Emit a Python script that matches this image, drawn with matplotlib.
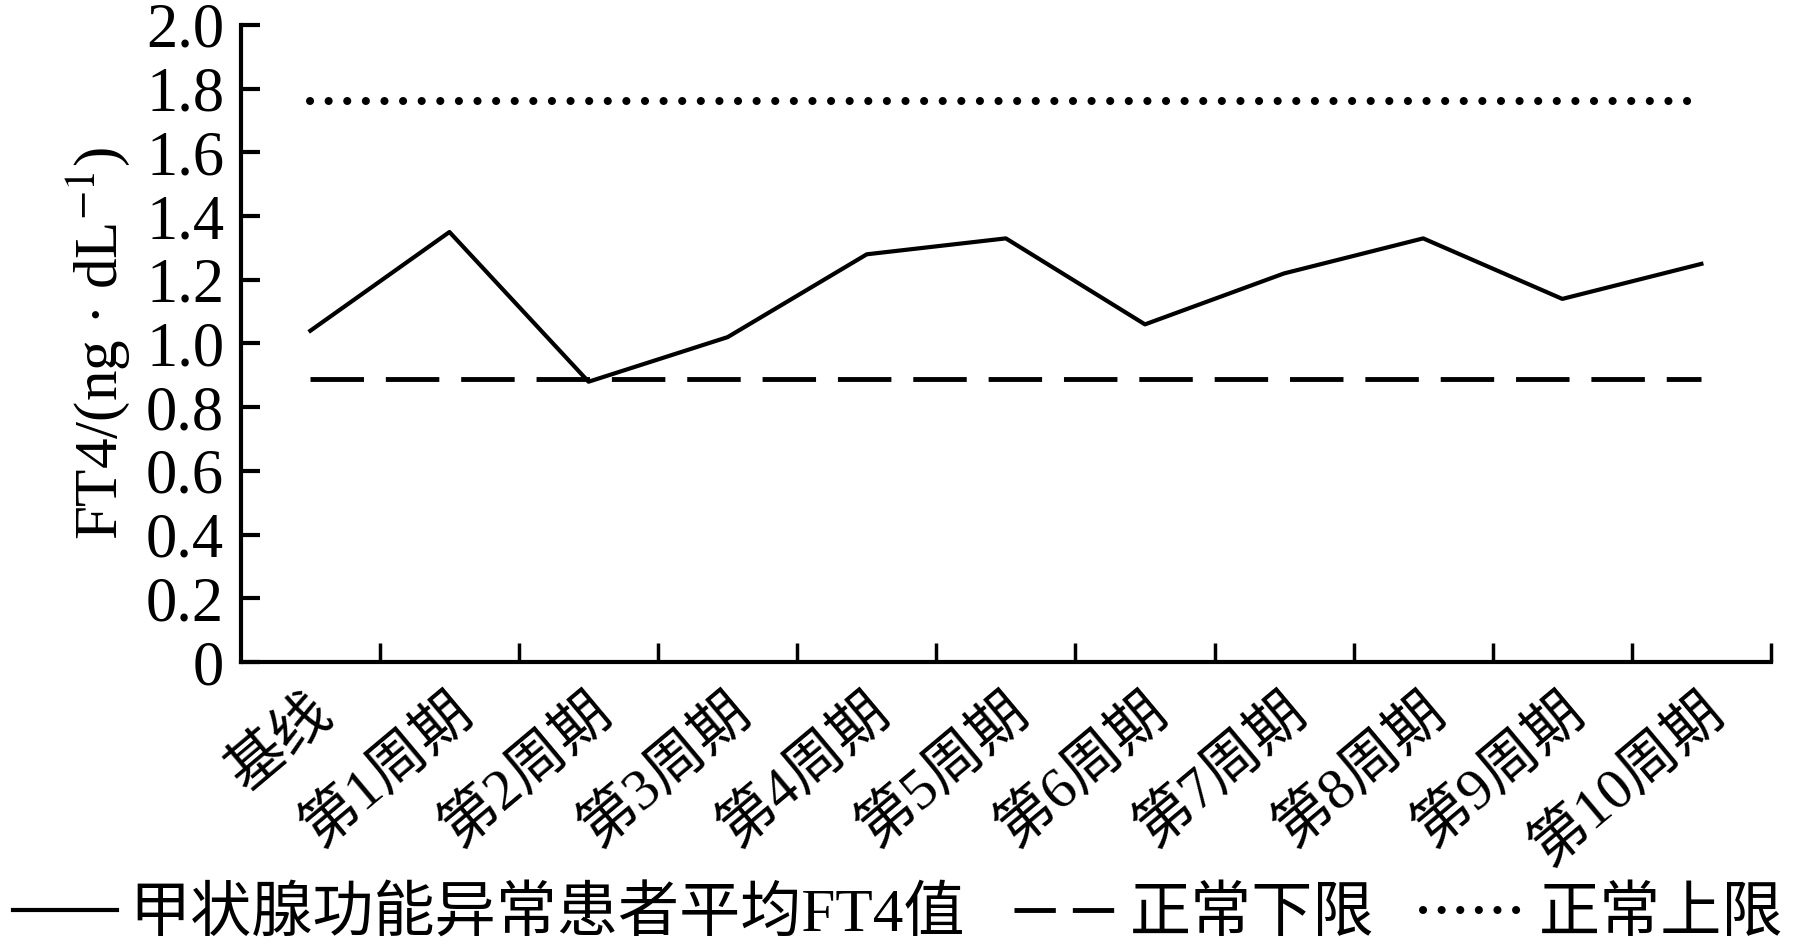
import matplotlib
matplotlib.use("Agg")
import matplotlib.pyplot as plt
import matplotlib.transforms as mtransforms
from matplotlib.lines import Line2D
from matplotlib.ticker import FixedLocator, FuncFormatter

# data
categories = ["基线", "第1周期", "第2周期", "第3周期", "第4周期", "第5周期",
              "第6周期", "第7周期", "第8周期", "第9周期", "第10周期"]
mean_ft4 = [1.04, 1.35, 0.88, 1.02, 1.28, 1.33, 1.06, 1.22, 1.33, 1.14, 1.25]
lower_limit = [0.89] * len(categories)
upper_limit = [1.76] * len(categories)
y_ticks = [0, 0.2, 0.4, 0.6, 0.8, 1.0, 1.2, 1.4, 1.6, 1.8, 2.0]

plt.rcParams["font.family"] = ["Liberation Serif", "Noto Sans CJK SC"]
plt.rcParams["mathtext.fontset"] = "stix"

fig = plt.figure(figsize=(17.97, 9.49), dpi=100)
ax = fig.add_axes([0.134, 0.3024, 0.8515, 0.6713])

x = list(range(len(categories)))
l1, = ax.plot(x, mean_ft4, color="black", lw=3, label="甲状腺功能异常患者平均FT4值")
ax.plot(x, lower_limit, color="black", lw=3.5, linestyle=(0, (11, 4.5)),
        label="正常下限")
l3, = ax.plot(x, upper_limit, color="black", lw=5.8, linestyle=(0, (0.01, 2.3)),
              dash_capstyle="round", label="正常上限")

ax.set_xlim(-0.5, len(categories) - 0.5)
ax.set_ylim(0, 2.0)

# spines
for side in ["top", "right"]:
    ax.spines[side].set_visible(False)
for side in ["left", "bottom"]:
    ax.spines[side].set_linewidth(3)

# y ticks
ax.yaxis.set_major_locator(FixedLocator(y_ticks))
ax.yaxis.set_major_formatter(FuncFormatter(lambda v, p: "0" if v == 0 else f"{v:.1f}"))
ax.tick_params(axis="y", direction="in", length=14, width=3, labelsize=45, pad=12)

# x ticks at bin boundaries, labels at centres
ax.set_xticks([i + 0.5 for i in x], minor=False)
ax.set_xticklabels([])
ax.tick_params(axis="x", which="major", direction="in", length=14, width=2.5)
ax.set_xticks(x, minor=True)
ax.set_xticklabels(categories, minor=True, rotation=40, ha="right",
                   rotation_mode="anchor", fontsize=42)
ax.tick_params(axis="x", which="minor", length=0, pad=16)
offset = mtransforms.ScaledTranslation(-0.02, 0, fig.dpi_scale_trans)
for lbl in ax.get_xticklabels(minor=True):
    lbl.set_transform(lbl.get_transform() + offset)

ax.set_ylabel(r"FT4/(ng · dL$^{-1}$)", fontsize=44, labelpad=10)

# legend: shorter dashes in the key so that two full dashes show
dash_key = Line2D([], [], color="black", lw=3.5, linestyle=(0, (8.5, 3.5)),
                  label="正常下限")
fig.legend(handles=[l1, dash_key, l3], loc="center", bbox_to_anchor=(0.5, 0.035),
           ncol=3, frameon=False, fontsize=44, handlelength=1.7,
           handletextpad=0.2, columnspacing=0.8)

fig.savefig("out.png", dpi=100)
